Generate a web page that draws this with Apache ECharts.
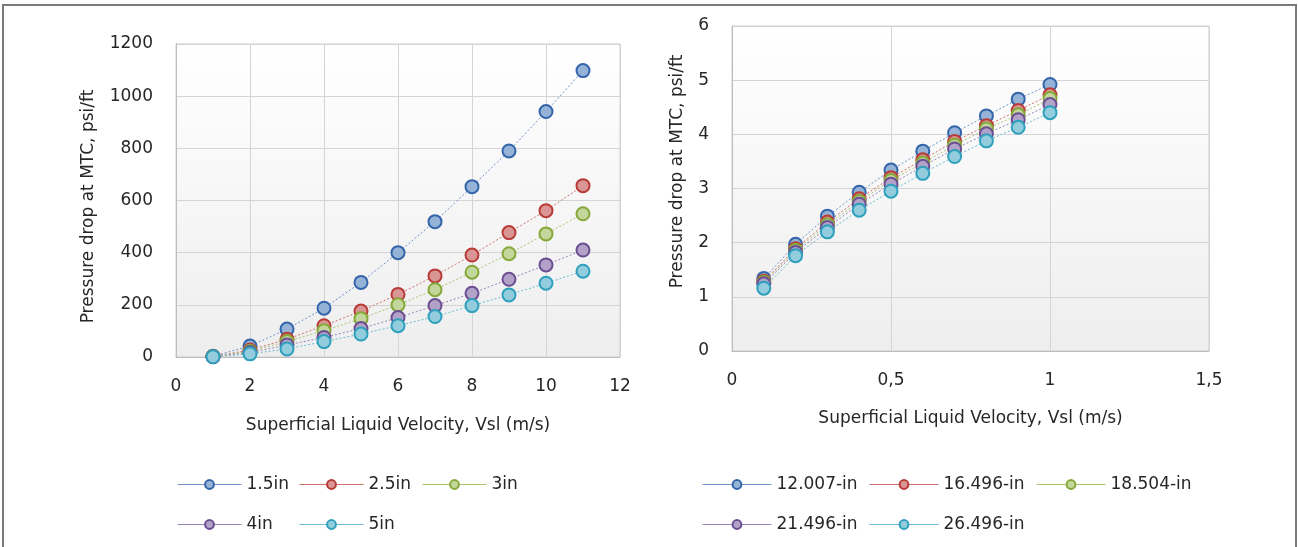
<!DOCTYPE html>
<html>
<head>
<meta charset="utf-8">
<script src="https://cdn.jsdelivr.net/npm/echarts@6/dist/echarts.min.js"></script>
<style>
  html, body { margin: 0; padding: 0; background: #fff; }
  #main { width: 1298px; height: 547px; }
</style>
</head>
<body>
<div id="main"></div>
<script>
// left chart: small pipes, velocity 1..11 m/s
const velocitySmall = [1, 2, 3, 4, 5, 6, 7, 8, 9, 10, 11];
const pipesSmall = ['1.5in', '2.5in', '3in', '4in', '5in'];
const drop1_5in = [3, 42, 107, 187, 286, 400, 519, 653, 790, 941, 1098];
const drop2_5in = [2, 27, 68, 120, 176, 240, 311, 391, 477, 561, 657];
const drop3in = [2, 22, 59, 101, 147, 200, 258, 325, 396, 472, 549];
const drop4in = [1, 17, 46, 75, 109, 151, 197, 244, 298, 353, 410];
const drop5in = [1, 12, 31, 59, 88, 120, 155, 197, 238, 283, 329];

// right chart: large pipes, velocity 0.1..1 m/s
const velocityLarge = [0.1, 0.2, 0.3, 0.4, 0.5, 0.6, 0.7, 0.8, 0.9, 1.0];
const pipesLarge = ['12.007-in', '16.496-in', '18.504-in', '21.496-in', '26.496-in'];
const drop12_007 = [1.34, 1.97, 2.49, 2.93, 3.34, 3.69, 4.03, 4.34, 4.65, 4.92];
const drop16_496 = [1.29, 1.89, 2.38, 2.81, 3.20, 3.53, 3.87, 4.16, 4.44, 4.73];
const drop18_504 = [1.27, 1.86, 2.33, 2.76, 3.15, 3.47, 3.80, 4.10, 4.36, 4.66];
const drop21_496 = [1.24, 1.82, 2.28, 2.71, 3.08, 3.41, 3.73, 4.01, 4.27, 4.55];
const drop26_496 = [1.16, 1.76, 2.20, 2.60, 2.95, 3.28, 3.59, 3.88, 4.13, 4.40];

const smallValues = [drop1_5in, drop2_5in, drop3in, drop4in, drop5in];
const largeValues = [drop12_007, drop16_496, drop18_504, drop21_496, drop26_496];

const lineColors = ['#6f95cc', '#d0706d', '#a9c471', '#9a83b8', '#6cbcd2'];
const fillColors = ['#95b3d7', '#d99694', '#c3d69b', '#b3a2c7', '#93cddd'];
const edgeColors = ['#3465aa', '#b83b38', '#86a83a', '#6b4e92', '#2ea0bd'];

const FONT = 'DejaVu Sans';
const TEXT = '#262626';

function makeSeries(names, xs, values, axisIndex) {
    return names.map(function (name, i) {
        return {
            name: name,
            type: 'line',
            xAxisIndex: axisIndex,
            yAxisIndex: axisIndex,
            data: xs.map(function (x, k) { return [x, values[i][k]]; }),
            symbol: 'circle',
            symbolSize: 13,
            lineStyle: { color: lineColors[i], width: 1, type: [2, 2] },
            itemStyle: { color: fillColors[i], borderColor: edgeColors[i], borderWidth: 2 },
            emphasis: { disabled: true },
            z: 2 + i
        };
    });
}

function makeLegend(name, i, left, top, iconWidth) {
    return {
        data: [{
            name: name,
            itemStyle: { color: fillColors[i], borderColor: edgeColors[i], borderWidth: 2 },
            lineStyle: { color: lineColors[i], type: 'solid', width: 1 }
        }],
        left: left,
        top: top,
        padding: 0,
        itemWidth: iconWidth,
        itemHeight: 11,
        selectedMode: false,
        textStyle: { fontFamily: FONT, fontSize: 17, color: TEXT }
    };
}

const plotBg = {
    type: 'linear', x: 0, y: 0, x2: 0, y2: 1,
    colorStops: [{ offset: 0, color: '#ffffff' }, { offset: 1, color: '#eeeeee' }]
};

const gridStyle = {
    show: true,
    backgroundColor: plotBg,
    borderColor: '#cccccc',
    borderWidth: 1
};

const labelStyle = { fontFamily: FONT, fontSize: 17, color: TEXT };
const nameStyle = { fontFamily: FONT, fontSize: 17, color: TEXT };
const splitStyle = { show: true, lineStyle: { color: '#d4d4d4', width: 1 } };
const plainNumber = function (v) { return String(v); };

const legends = [];
const colXSmall = [177, 299, 422];
const colXLarge = [702, 869, 1036];
const rowY = [476, 516];
pipesSmall.forEach(function (n, i) {
    legends.push(makeLegend(n, i, colXSmall[i % 3], rowY[Math.floor(i / 3)], 64));
});
pipesLarge.forEach(function (n, i) {
    legends.push(makeLegend(n, i, colXLarge[i % 3], rowY[Math.floor(i / 3)], 69));
});

let chart = echarts.init(document.getElementById('main'));
chart.setOption({
    animation: false,
    backgroundColor: '#ffffff',
    textStyle: { fontFamily: FONT },
    graphic: [{
        type: 'rect',
        shape: { x: 3, y: 5, width: 1293, height: 560 },
        style: { fill: 'none', stroke: '#7a7a7a', lineWidth: 2 },
        silent: true
    }],
    legend: legends,
    grid: [
        { left: 176, top: 44, width: 444, height: 313, ...gridStyle },
        { left: 732, top: 26, width: 477, height: 325, ...gridStyle }
    ],
    xAxis: [{
        gridIndex: 0, type: 'value', min: 0, max: 12, interval: 2,
        name: 'Superficial Liquid Velocity, Vsl (m/s)', nameLocation: 'middle', nameGap: 60,
        nameTextStyle: nameStyle,
        axisLine: { show: true, lineStyle: { color: '#bdbdbd' } },
        axisTick: { show: false },
        axisLabel: { ...labelStyle, margin: 21, formatter: plainNumber },
        splitLine: splitStyle
    }, {
        gridIndex: 1, type: 'value', min: 0, max: 1.5, interval: 0.5,
        name: 'Superficial Liquid Velocity, Vsl (m/s)', nameLocation: 'middle', nameGap: 59,
        nameTextStyle: nameStyle,
        axisLine: { show: true, lineStyle: { color: '#bdbdbd' } },
        axisTick: { show: false },
        axisLabel: {
            ...labelStyle, margin: 21,
            formatter: function (v) { return String(v).replace('.', ','); }
        },
        splitLine: splitStyle
    }],
    yAxis: [{
        gridIndex: 0, type: 'value', min: 0, max: 1200, interval: 200,
        name: 'Pressure drop at MTC, psi/ft', nameLocation: 'middle', nameGap: 79,
        nameTextStyle: { ...nameStyle, padding: [0, 12, 0, 0] },
        axisLine: { show: true, lineStyle: { color: '#bdbdbd' } },
        axisTick: { show: false },
        axisLabel: { ...labelStyle, margin: 23, formatter: plainNumber },
        splitLine: splitStyle
    }, {
        gridIndex: 1, type: 'value', min: 0, max: 6, interval: 1,
        name: 'Pressure drop at MTC, psi/ft', nameLocation: 'middle', nameGap: 46,
        nameTextStyle: { ...nameStyle, padding: [0, 0, 0, 34] },
        axisLine: { show: true, lineStyle: { color: '#bdbdbd' } },
        axisTick: { show: false },
        axisLabel: { ...labelStyle, margin: 23, formatter: plainNumber },
        splitLine: splitStyle
    }],
    series: makeSeries(pipesSmall, velocitySmall, smallValues, 0)
        .concat(makeSeries(pipesLarge, velocityLarge, largeValues, 1))
});
</script>
</body>
</html>
